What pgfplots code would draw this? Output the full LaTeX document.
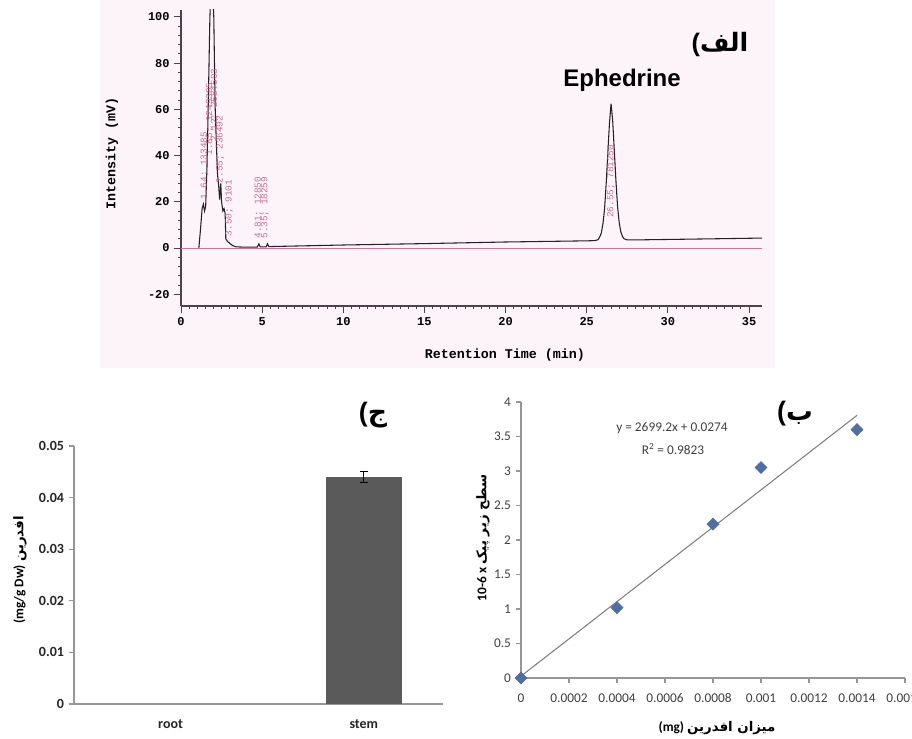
\documentclass[border=0pt]{standalone}
\usepackage{fontspec}
\usepackage{pgfplots}
\pgfplotsset{compat=1.18}
\setmainfont{Carlito}
\newfontfamily\monof{Liberation Mono}
\newfontfamily\arialf{Liberation Sans}
\newfontfamily\arabicfont[Script=Arabic]{DejaVu Sans}
\TeXXeTstate=1
\definecolor{pinkbg}{RGB}{252,244,249}
\definecolor{axisdark}{RGB}{80,64,72}
\definecolor{redtext}{RGB}{190,90,120}
\definecolor{tracec}{RGB}{40,30,36}
\definecolor{pinkline}{RGB}{200,120,150}
\definecolor{bargray}{RGB}{90,90,90}
\definecolor{markblue}{RGB}{80,110,160}
\definecolor{lgray}{RGB}{150,150,150}
\begin{document}
\begin{tikzpicture}
\path[use as bounding box] (0,0) rectangle (684pt,-553.5pt);
\clip (0,0) rectangle (684pt,-553.5pt);
\fill[white] (0,0) rectangle (684pt,-553.5pt);
\fill[pinkbg] (75pt,0) rectangle (581.25pt,-276pt);

% ---------------- top chromatogram
\begin{axis}[
 at={(135.75pt,-229.5pt)}, anchor=south west,
 width=435.75pt, height=222pt, scale only axis,
 xmin=0, xmax=35.8, ymin=-25.1, ymax=103,
 axis lines=left, axis line style={-, draw=axisdark, line width=0.8pt},
 tick align=outside,
 xtick={0,5,10,15,20,25,30,35}, minor x tick num=9,
 ytick={-20,0,20,40,60,80,100}, minor y tick num=4,
 major tick length=5pt, minor tick length=2.5pt,
 tick style={axisdark, line width=0.7pt},
 ticklabel style={font=\monof\bfseries\fontsize{9}{10}\selectfont, text=black},
 /pgf/number format/assume math mode=true,
]
\addplot[pinkline, line width=0.6pt] coordinates {(0,0) (35.8,0)};
\addplot[tracec, line width=0.8pt] coordinates {
(1.10,0) (1.20,8) (1.30,17) (1.38,19) (1.45,16) (1.52,18) (1.60,35) (1.68,62)
(1.78,100) (1.85,112) (1.95,112) (2.02,100) (2.10,62) (2.18,45) (2.25,32)
(2.32,27) (2.38,21) (2.45,28) (2.50,20) (2.58,16) (2.65,17) (2.72,15) (2.76,4)
(2.85,3) (3.00,2) (3.20,1) (3.40,0.5) (3.80,0.4) (4.70,0.4) (4.80,1.8) (4.88,0.5)
(5.25,0.5) (5.33,1.8) (5.42,0.6) (6.0,0.7) (10,1.3) (15,1.9) (20,2.6) (25,3.1)
(25.5,3.2) (25.7,3.6) (25.8,4.8) (25.9,6.5) (26.0,10.5) (26.1,17) (26.2,28)
(26.3,41) (26.4,54) (26.5,62.5) (26.6,55) (26.7,42) (26.8,29) (26.9,18) (27.0,11)
(27.1,7) (27.2,5) (27.3,4) (27.5,3.5) (28,3.5) (30,3.7) (33,4.0) (35.8,4.3)};
\begin{scope}[every node/.style={rotate=90, anchor=west, text=redtext, opacity=0.85, font=\monof\fontsize{7}{8}\selectfont, inner sep=0pt}]
\node at (axis cs:1.45,21) {1.64; 133485};
\node at (axis cs:1.78,40) {1.85; 1249305};
\node at (axis cs:2.08,46) {2.12; 2684503};
\node at (axis cs:2.42,28) {2.55; 236492};
\node at (axis cs:2.98,5) {3.50; 9101};
\node at (axis cs:4.78,4) {4.81; 12850};
\node at (axis cs:5.18,4) {5.35; 18259};
\node at (axis cs:26.5,13) {26.55; 781250};
\end{scope}
\end{axis}
\node[rotate=90, font=\monof\bfseries\fontsize{10}{12}\selectfont] at (84pt,-114.75pt) {Intensity (mV)};
\node[font=\monof\bfseries\fontsize{10}{12}\selectfont] at (378.75pt,-266.25pt) {Retention Time (min)};
\node[font=\arialf\bfseries\fontsize{18}{20}\selectfont] at (466.5pt,-60pt) {Ephedrine};
\node[inner sep=0pt] at (540pt,-33.75pt) {{\arialf\bfseries\fontsize{19}{24}\selectfont (}{\arabicfont\bfseries\fontsize{19}{24}\selectfont الف}};

% ---------------- bottom-left bar chart
\begin{axis}[
 at={(55.5pt,-528pt)}, anchor=south west,
 width=276.75pt, height=193.5pt, scale only axis,
 xmin=-0.5, xmax=1.41, ymin=0, ymax=0.05,
 axis lines=left, axis line style={-, draw=lgray, line width=0.8pt},
 xtick={0,1}, xticklabels={root,stem}, major x tick style={draw=none},
 extra x ticks={0.5}, extra x tick labels={},
 extra x tick style={major tick length=4pt, tick align=outside, tick style={lgray, line width=0.8pt}},
 ytick={0,0.01,0.02,0.03,0.04,0.05}, yticklabels={0,0.01,0.02,0.03,0.04,0.05},
 scaled y ticks=false,
 tick align=outside, major tick length=4pt, tick style={lgray, line width=0.8pt},
 ticklabel style={font=\bfseries\fontsize{10.5}{12}\selectfont, text=black!85},
 xticklabel style={yshift=-4.5pt},
 /pgf/number format/assume math mode=true,
 ybar, bar width=57pt,
]
\addplot[fill=bargray, draw=none,
  error bars/.cd, y dir=both, y explicit,
  error bar style={black, line width=0.8pt},
  error mark options={black, mark size=3pt, line width=0.8pt, rotate=90}]
  coordinates {(1,0.044) +- (0,0.0011)};
\end{axis}
\node[rotate=90, font=\bfseries\fontsize{10}{12}\selectfont] at (15pt,-427.5pt) {(mg/g Dw) {\arabicfont\bfseries افدرین}};
\node[inner sep=0pt] at (279.75pt,-311.25pt) {{\arialf\bfseries\fontsize{20}{24}\selectfont (}{\arabicfont\bfseries\fontsize{20}{24}\selectfont ج}};

% ---------------- bottom-right calibration
\begin{axis}[
 at={(390.75pt,-508.5pt)}, anchor=south west,
 width=288pt, height=207pt, scale only axis,
 xmin=0, xmax=0.0016, ymin=0, ymax=4,
 axis lines=left, axis line style={-, draw=lgray, line width=0.8pt},
 xtick={0,0.0002,0.0004,0.0006,0.0008,0.001,0.0012,0.0014,0.0016},
 xticklabels={0,0.0002,0.0004,0.0006,0.0008,0.001,0.0012,0.0014,0.0016},
 ytick={0,0.5,1,1.5,2,2.5,3,3.5,4}, yticklabels={0,0.5,1,1.5,2,2.5,3,3.5,4},
 scaled x ticks=false,
 tick align=outside, major tick length=4pt, tick style={lgray, line width=0.8pt},
 ticklabel style={font=\fontsize{10}{12}\selectfont, text=black!75},
 xticklabel style={yshift=-4pt},
 /pgf/number format/assume math mode=true,
 clip=false,
]
\addplot[gray, line width=0.8pt] coordinates {(0,0.0274) (0.0014,3.8063)};
\addplot[only marks, mark=square*, mark size=3.2pt, mark options={rotate=45, fill=markblue, draw=markblue}]
  coordinates {(0,0) (0.0004,1.02) (0.0008,2.23) (0.001,3.05) (0.0014,3.6)};
\end{axis}
\node[font=\fontsize{10}{12}\selectfont, text=black!75] at (504pt,-321pt) {y = 2699.2x + 0.0274};
\node[font=\fontsize{10}{12}\selectfont, text=black!75] at (504.75pt,-336.75pt) {R\textsuperscript{2} = 0.9823};
\node[rotate=90, font=\bfseries\fontsize{10}{12}\selectfont] at (362.25pt,-403.5pt) {10-6 x {\arabicfont\bfseries\beginR سطح زیر پیک\endR}};
\node[font=\bfseries\fontsize{10}{12}\selectfont] at (537.75pt,-546pt) {(mg) {\arabicfont\bfseries\beginR میزان افدرین\endR}};
\node[inner sep=0pt] at (596.25pt,-310.5pt) {{\arialf\bfseries\fontsize{20}{24}\selectfont (}{\arabicfont\bfseries\fontsize{20}{24}\selectfont ب}};
\end{tikzpicture}
\end{document}
